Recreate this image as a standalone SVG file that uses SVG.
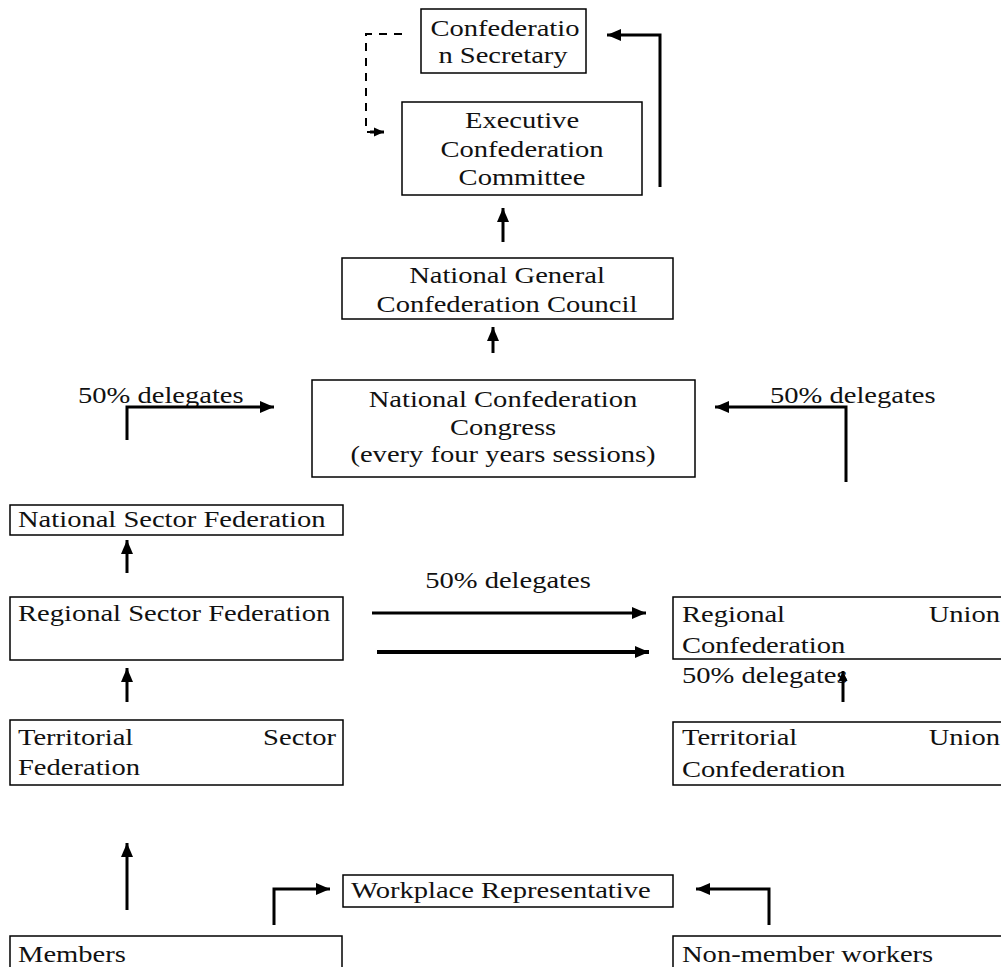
<svg xmlns="http://www.w3.org/2000/svg" width="1001" height="967" viewBox="0 0 1001 967">
<style>
.box{fill:#fff;stroke:#000;stroke-width:1.5}
text{font-family:"Liberation Serif","Times New Roman",serif;font-size:24px;fill:#111}
.c{text-anchor:middle}
.e{text-anchor:end}
.ln{fill:none;stroke:#000;stroke-width:3}
.thick{fill:none;stroke:#000;stroke-width:4}
.dash{fill:none;stroke:#000;stroke-width:2;stroke-dasharray:8 7}
</style>
<defs>
<marker id="ah" markerUnits="userSpaceOnUse" markerWidth="16" markerHeight="14" refX="14" refY="7" orient="auto"><path d="M0,1 L14,7 L0,13 Z" fill="#000"/></marker>
<marker id="ahs" markerUnits="userSpaceOnUse" markerWidth="12" markerHeight="10" refX="10" refY="5" orient="auto"><path d="M0,0.5 L10,5 L0,9.5 Z" fill="#000"/></marker>
</defs>
<rect width="1001" height="967" fill="#fff"/>

<g id="secretary">
<rect class="box" x="421" y="9" width="165" height="64"/>
<text class="c" transform="translate(505,36) scale(1.19,1)">Confederatio</text>
<text class="c" transform="translate(503,63) scale(1.19,1)">n Secretary</text>
</g>
<g id="executive">
<rect class="box" x="402" y="102" width="240" height="93"/>
<text class="c" transform="translate(522,128) scale(1.19,1)">Executive</text>
<text class="c" transform="translate(522,157) scale(1.19,1)">Confederation</text>
<text class="c" transform="translate(522,185) scale(1.19,1)">Committee</text>
</g>
<g id="council">
<rect class="box" x="342" y="258" width="331" height="61"/>
<text class="c" transform="translate(507,283) scale(1.19,1)">National General</text>
<text class="c" transform="translate(507,312) scale(1.19,1)">Confederation Council</text>
</g>
<g id="congress">
<rect class="box" x="312" y="380" width="383" height="97"/>
<text class="c" transform="translate(503,407) scale(1.19,1)">National Confederation</text>
<text class="c" transform="translate(503,435) scale(1.19,1)">Congress</text>
<text class="c" transform="translate(503,462) scale(1.19,1)">(every four years sessions)</text>
</g>
<g id="label-left">
<text transform="translate(78,403) scale(1.19,1)">50% delegates</text>
</g>
<g id="label-right">
<text transform="translate(770,403) scale(1.19,1)">50% delegates</text>
</g>
<g id="national-sector">
<rect class="box" x="10" y="505" width="333" height="30"/>
<text transform="translate(18,527) scale(1.19,1)">National Sector Federation</text>
</g>
<g id="regional-sector">
<rect class="box" x="10" y="597" width="333" height="63"/>
<text transform="translate(18,621) scale(1.19,1)">Regional Sector Federation</text>
</g>
<g id="label-mid">
<text class="c" transform="translate(508,588) scale(1.19,1)">50% delegates</text>
</g>
<g id="territorial-sector">
<rect class="box" x="10" y="720" width="333" height="65"/>
<text transform="translate(18,745) scale(1.19,1)">Territorial</text>
<text class="e" transform="translate(336,745) scale(1.19,1)">Sector</text>
<text transform="translate(18,775) scale(1.19,1)">Federation</text>
</g>
<g id="regional-union">
<rect class="box" x="673" y="597" width="340" height="62"/>
<text transform="translate(682,622) scale(1.19,1)">Regional</text>
<text class="e" transform="translate(1000,622) scale(1.19,1)">Union</text>
<text transform="translate(682,653) scale(1.19,1)">Confederation</text>
</g>
<g id="label-union">
<text transform="translate(682,683) scale(1.19,1)">50% delegates</text>
</g>
<g id="territorial-union">
<rect class="box" x="673" y="722" width="340" height="63"/>
<text transform="translate(682,745) scale(1.19,1)">Territorial</text>
<text class="e" transform="translate(1000,745) scale(1.19,1)">Union</text>
<text transform="translate(682,777) scale(1.19,1)">Confederation</text>
</g>
<g id="workplace">
<rect class="box" x="343" y="875" width="330" height="32"/>
<text transform="translate(351,898) scale(1.19,1)">Workplace Representative</text>
</g>
<g id="members">
<rect class="box" x="10" y="936" width="332" height="40"/>
<text transform="translate(18,962) scale(1.19,1)">Members</text>
</g>
<g id="non-members">
<rect class="box" x="673" y="936" width="340" height="40"/>
<text transform="translate(682,962) scale(1.19,1)">Non-member workers</text>
</g>

<g id="connectors">
<path class="dash" d="M402,34 H366 V132 H372"/>
<path class="ln" d="M370,132 H384" marker-end="url(#ahs)"/>
<path class="ln" d="M660,187 V35 H607" marker-end="url(#ah)"/>
<path class="ln" d="M503,242 V208" marker-end="url(#ah)"/>
<path class="ln" d="M493,353 V327" marker-end="url(#ah)"/>
<path class="ln" d="M127,440 V407 H274" marker-end="url(#ah)"/>
<path class="ln" d="M846,482 V407 H715" marker-end="url(#ah)"/>
<path class="ln" d="M127,573 V540" marker-end="url(#ah)"/>
<path class="ln" d="M127,702 V668" marker-end="url(#ah)"/>
<path class="ln" d="M127,910 V843" marker-end="url(#ah)"/>
<path class="ln" d="M372,613 H646" marker-end="url(#ah)"/>
<path class="thick" d="M377,652 H649" marker-end="url(#ah)"/>
<path class="ln" d="M843,702 V671" marker-end="url(#ahs)"/>
<path class="ln" d="M274,925 V889 H330" marker-end="url(#ah)"/>
<path class="ln" d="M769,925 V889 H696" marker-end="url(#ah)"/>
</g>
</svg>
